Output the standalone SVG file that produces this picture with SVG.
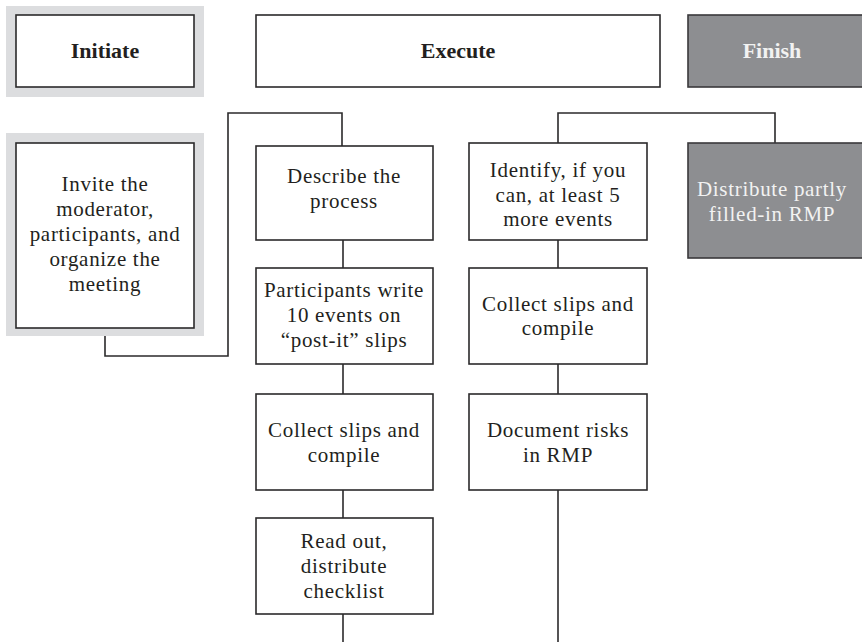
<svg xmlns="http://www.w3.org/2000/svg" width="862" height="642" viewBox="0 0 862 642">
<style>
.box{fill:#ffffff;stroke:#2b2a2b;stroke-width:1.6}
.dark{fill:#8d8e91;stroke:#3a393b;stroke-width:1.6}
.halo{fill:#dcdddf}
.t{font-family:"Liberation Serif",serif;font-size:21px;letter-spacing:0.7px;fill:#231f20;text-anchor:middle}
.h{font-family:"Liberation Serif",serif;font-size:22px;font-weight:bold;fill:#231f20;text-anchor:middle}
.w{fill:#f2f2f2}
.c{fill:none;stroke:#2b2a2b;stroke-width:1.6}
</style>
<rect width="862" height="642" fill="#ffffff"/>
<g id="connectors">
<polyline class="c" points="105,328 105,356 228,356 228,113 342,113 342,146"/>
<line class="c" x1="343" y1="240" x2="343" y2="268"/>
<line class="c" x1="343" y1="364" x2="343" y2="394"/>
<line class="c" x1="343" y1="490" x2="343" y2="518"/>
<line class="c" x1="343" y1="614" x2="343" y2="642"/>
<polyline class="c" points="558,143 558,113 775,113 775,143"/>
<line class="c" x1="558" y1="240" x2="558" y2="268"/>
<line class="c" x1="558" y1="364" x2="558" y2="394"/>
<line class="c" x1="558" y1="490" x2="558" y2="642"/>
</g>
<g id="initiate">
<rect class="halo" x="6" y="6" width="198" height="91"/>
<rect class="box" x="16" y="15" width="178" height="72"/>
<text class="h" x="105" y="58">Initiate</text>
</g>
<g id="execute">
<rect class="box" x="256" y="15" width="404" height="72"/>
<text class="h" x="458" y="58">Execute</text>
</g>
<g id="finish">
<rect class="dark" x="688" y="15" width="180" height="72"/>
<text class="h w" x="772" y="58">Finish</text>
</g>
<g id="invite">
<rect class="halo" x="6" y="133" width="198" height="203"/>
<rect class="box" x="16" y="143" width="178" height="185"/>
<text class="t" x="105" y="191">Invite the</text>
<text class="t" x="105" y="216">moderator,</text>
<text class="t" x="105" y="241">participants, and</text>
<text class="t" x="105" y="266">organize the</text>
<text class="t" x="105" y="291">meeting</text>
</g>
<g id="describe">
<rect class="box" x="256" y="146" width="177" height="94"/>
<text class="t" x="344" y="183">Describe the</text>
<text class="t" x="344" y="208">process</text>
</g>
<g id="participants">
<rect class="box" x="256" y="268" width="177" height="96"/>
<text class="t" x="344" y="297">Participants write</text>
<text class="t" x="344" y="322">10 events on</text>
<text class="t" x="344" y="347">“post-it” slips</text>
</g>
<g id="collect1">
<rect class="box" x="256" y="394" width="177" height="96"/>
<text class="t" x="344" y="437">Collect slips and</text>
<text class="t" x="344" y="462">compile</text>
</g>
<g id="readout">
<rect class="box" x="256" y="518" width="177" height="96"/>
<text class="t" x="344" y="548">Read out,</text>
<text class="t" x="344" y="573">distribute</text>
<text class="t" x="344" y="598">checklist</text>
</g>
<g id="identify">
<rect class="box" x="469" y="143" width="178" height="97"/>
<text class="t" x="558" y="177">Identify, if you</text>
<text class="t" x="558" y="202">can, at least 5</text>
<text class="t" x="558" y="226">more events</text>
</g>
<g id="collect2">
<rect class="box" x="469" y="268" width="178" height="96"/>
<text class="t" x="558" y="311">Collect slips and</text>
<text class="t" x="558" y="335">compile</text>
</g>
<g id="document">
<rect class="box" x="469" y="394" width="178" height="96"/>
<text class="t" x="558" y="437">Document risks</text>
<text class="t" x="558" y="462">in RMP</text>
</g>
<g id="distribute">
<rect class="dark" x="688" y="143" width="180" height="115"/>
<text class="t w" x="772" y="196">Distribute partly</text>
<text class="t w" x="772" y="221">filled-in RMP</text>
</g>
</svg>
